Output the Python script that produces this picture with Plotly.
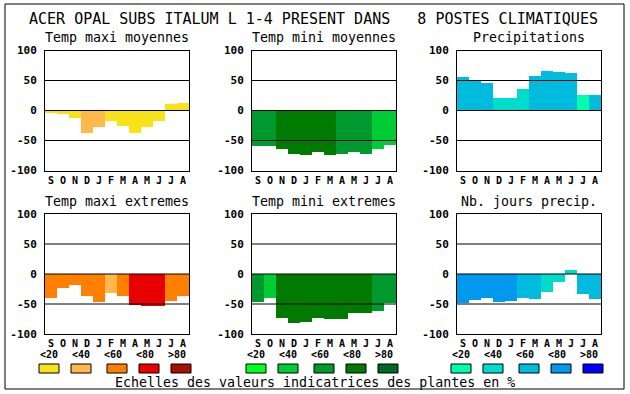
import plotly.graph_objects as go

W, H = 630, 394

# ---------------- data ----------------
months = ["S", "O", "N", "D", "J", "F", "M", "A", "M", "J", "J", "A"]
panel_titles = ["Temp maxi moyennes", "Temp mini moyennes", "Precipitations",
                "Temp maxi extremes", "Temp mini extremes", "Nb. jours precip."]
main_title = "ACER OPAL SUBS ITALUM L 1-4 PRESENT DANS\u00a0\u00a0\u00a08 POSTES CLIMATIQUES"
caption = "Echelles des valeurs indicatrices des plantes en %"
scale_labels = ["&lt;20", "&lt;40", "&lt;60", "&lt;80", "&gt;80"]
y_ticks = [-100, -50, 0, 50, 100]
y_ticklabels = ["-100", "-50", "0", "50", "100"]
grid_values = [50, 0, -50]

tmax_moy = [-2, -5, -12, -37, -27, -17, -25, -37, -26, -17, 12, 14]
tmin_moy = [-58, -58, -64, -71, -73, -68, -73, -71, -68, -71, -63, -56]
precip = [56, 52, 46, 22, 22, 37, 58, 66, 65, 64, 27, 27]
tmax_ext = [-40, -24, -18, -36, -47, -31, -37, -52, -54, -54, -45, -37]
tmin_ext = [-47, -40, -74, -82, -80, -74, -75, -75, -65, -65, -62, -49]
nb_jours = [-49, -44, -40, -47, -45, -40, -42, -30, -14, 6, -34, -42]

# class (0..4 -> <20 .. >80) of each bar
cls_tmax_moy = [0, 0, 0, 1, 1, 0, 0, 0, 0, 0, 0, 0]
cls_tmin_moy = [2, 2, 3, 3, 3, 3, 3, 2, 2, 2, 1, 1]
cls_precip = [2, 2, 2, 1, 1, 1, 2, 2, 2, 2, 0, 2]
cls_tmax_ext = [2, 2, 2, 2, 2, 1, 2, 3, 3, 3, 2, 2]
cls_tmin_ext = [2, 1, 3, 3, 3, 3, 3, 3, 3, 3, 2, 2]
cls_nb_jours = [3, 3, 3, 3, 3, 2, 2, 1, 1, 1, 2, 2]

warm = ["#F8E21A", "#FFB84C", "#FF8000", "#E80000", "#AA1000"]
green = ["#00FF22", "#00CC36", "#00992E", "#007A00", "#006622"]
blue = ["#00FFAA", "#00DCCC", "#00BBDD", "#0099EE", "#0000FF"]

panels = [
    (tmax_moy, cls_tmax_moy, warm),
    (tmin_moy, cls_tmin_moy, green),
    (precip, cls_precip, blue),
    (tmax_ext, cls_tmax_ext, warm),
    (tmin_ext, cls_tmin_ext, green),
    (nb_jours, cls_nb_jours, blue),
]

# ---------------- layout geometry (pixels) ----------------
col_left = [45, 252, 457]
plot_w = 144
row_top = [50.5, 214]
plot_h = 120
sub_y = [38, 201]
month_font = dict(family="DejaVu Sans Mono", size=10, color="black", weight="bold")
scale_font = dict(family="DejaVu Sans Mono", size=10, color="black", weight="bold")
tick_font = dict(family="DejaVu Sans Mono", size=11, color="black", weight="bold")
text_font = dict(family="DejaVu Sans Mono", size=13.3, color="black")


def px(x):
    return x / W


def py(y):
    return 1 - y / H


fig = go.Figure()
layout = dict(
    width=W, height=H, autosize=False,
    margin=dict(l=0, r=0, t=0, b=0, pad=0, autoexpand=False),
    paper_bgcolor="white", plot_bgcolor="white",
    showlegend=False, bargap=0,
)
annotations = []
shapes = []

for i, (vals, cls, pal) in enumerate(panels):
    r, c = divmod(i, 3)
    n = i + 1
    xa = "x" if n == 1 else f"x{n}"
    ya = "y" if n == 1 else f"y{n}"
    fig.add_trace(go.Bar(
        x=list(range(len(months))), y=vals,
        marker=dict(color=[pal[k] for k in cls], line=dict(width=0)),
        width=1.0, xaxis=xa, yaxis=ya, hoverinfo="skip",
    ))
    x0, x1 = col_left[c], col_left[c] + plot_w
    y0, y1 = row_top[r], row_top[r] + plot_h
    layout["xaxis" if n == 1 else f"xaxis{n}"] = dict(
        domain=[px(x0), px(x1)], anchor=ya, range=[-0.5, 11.5],
        tickvals=list(range(len(months))), ticktext=months, tickfont=month_font,
        showgrid=False, zeroline=False, showline=True, mirror=True,
        linecolor="black", linewidth=1, ticks="", fixedrange=True,
        automargin=False,
    )
    layout["yaxis" if n == 1 else f"yaxis{n}"] = dict(
        domain=[py(y1), py(y0)], anchor=xa, range=[-100, 100],
        tickvals=y_ticks, ticktext=y_ticklabels, tickfont=tick_font,
        showgrid=False, zeroline=False, showline=True, mirror=True,
        linecolor="black", linewidth=1, ticks="", ticklabelstandoff=5,
        fixedrange=True, automargin=False,
    )
    for v in grid_values:
        shapes.append(dict(type="line", xref=f"{xa} domain", x0=0, x1=1,
                           yref=ya, y0=v, y1=v, layer="above",
                           line=dict(color="black", width=1)))
    annotations.append(dict(text=panel_titles[i], xref="paper", yref="paper",
                            x=px((x0 + x1) / 2), y=py(sub_y[r]),
                            xanchor="center", yanchor="middle",
                            showarrow=False, font=text_font))

# scale legends under bottom row
box_off = [0, 32, 68, 100, 132]
lab_off = [0, 32, 64, 96, 128]
for c, pal in enumerate([warm, green, blue]):
    gx = col_left[c] - 6
    for k in range(5):
        bx = gx + box_off[k]
        shapes.append(dict(type="rect", xref="paper", yref="paper",
                           x0=px(bx), x1=px(bx + 20), y0=py(373), y1=py(364),
                           fillcolor=pal[k], line=dict(color="black", width=1)))
        annotations.append(dict(text=scale_labels[k], xref="paper", yref="paper",
                                x=px(gx + lab_off[k] - 1), y=py(354.5),
                                xanchor="left", yanchor="middle",
                                showarrow=False, font=scale_font))

annotations.append(dict(text=caption, xref="paper", yref="paper",
                        x=px(314.5), y=py(382), xanchor="center", yanchor="middle",
                        showarrow=False, font=text_font))
annotations.append(dict(text=main_title, xref="paper", yref="paper",
                        x=px(313.5), y=py(18.5), xanchor="center", yanchor="middle",
                        showarrow=False,
                        font=dict(family="DejaVu Sans Mono", size=15, color="black")))

# outer frame
shapes.append(dict(type="rect", xref="paper", yref="paper",
                   x0=px(5), x1=px(624), y0=py(389), y1=py(4),
                   line=dict(color="black", width=1), fillcolor="rgba(0,0,0,0)"))

layout["annotations"] = annotations
layout["shapes"] = shapes
fig.update_layout(**layout)
fig.write_html(
    "out.html",
    config={"displayModeBar": False, "responsive": False},
    post_script="document.documentElement.style.margin='0';"
                "document.documentElement.style.overflow='hidden';"
                "document.body.style.margin='0';document.body.style.padding='0';"
                "document.body.style.overflow='hidden';",
)
